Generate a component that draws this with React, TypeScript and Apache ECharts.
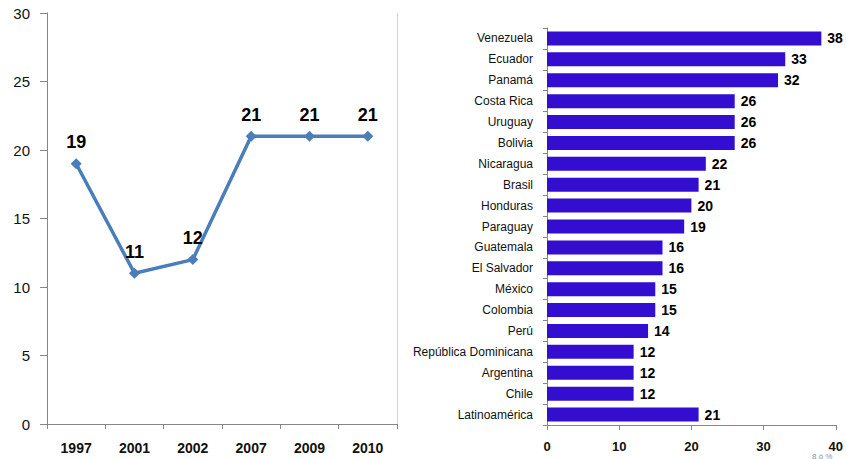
import React, { useEffect, useRef } from "react";
import * as echarts from "echarts";

const years = ["1997", "2001", "2002", "2007", "2009", "2010"];
const yearValues = [19, 11, 12, 21, 21, 21];

const countries = [
  "Venezuela", "Ecuador", "Panamá", "Costa Rica", "Uruguay", "Bolivia",
  "Nicaragua", "Brasil", "Honduras", "Paraguay", "Guatemala", "El Salvador",
  "México", "Colombia", "Perú", "República Dominicana", "Argentina", "Chile",
  "Latinoamérica",
];
const countryValues = [38, 33, 32, 26, 26, 26, 22, 21, 20, 19, 16, 16, 15, 15, 14, 12, 12, 12, 21];

const FONT = "'Liberation Sans', Arial, sans-serif";

export default function App() {
  const ref = useRef<HTMLDivElement>(null);
  useEffect(() => {
    if (!ref.current) return;
    const chart = echarts.init(ref.current, null, { renderer: "svg" });
    const axisColor = "#868686";
    chart.setOption({
      animation: false,
      backgroundColor: "#ffffff",
      textStyle: { fontFamily: FONT },
      grid: [
        { left: 47, right: 449, top: 13, bottom: 35 },
        { left: 547, right: 9, top: 28, bottom: 34 },
      ],
      xAxis: [
        {
          gridIndex: 0,
          type: "category",
          data: years,
          boundaryGap: true,
          axisLine: { lineStyle: { color: axisColor, width: 1 } },
          axisTick: { show: true, length: 5, lineStyle: { color: axisColor } },
          axisLabel: { color: "#111", fontSize: 14, fontWeight: "bold", margin: 17, fontFamily: FONT },
          splitLine: { show: false },
        },
        {
          gridIndex: 1,
          type: "value",
          min: 0,
          max: 40,
          interval: 10,
          axisLine: { show: true, lineStyle: { color: axisColor } },
          axisTick: { show: true, length: 5, lineStyle: { color: axisColor } },
          axisLabel: { color: "#111", fontSize: 13, fontWeight: "bold", margin: 15, fontFamily: FONT },
          splitLine: { show: false },
        },
      ],
      yAxis: [
        {
          gridIndex: 0,
          type: "value",
          min: 0,
          max: 30,
          interval: 5,
          axisLine: { show: true, lineStyle: { color: axisColor } },
          axisTick: { show: true, length: 7, lineStyle: { color: axisColor } },
          axisLabel: { color: "#111", fontSize: 15, margin: 17, fontFamily: FONT },
          splitLine: { show: false },
        },
        {
          gridIndex: 1,
          type: "category",
          data: countries,
          inverse: true,
          axisLine: { show: true, lineStyle: { color: axisColor } },
          axisTick: { show: true, length: 4, lineStyle: { color: axisColor } },
          axisLabel: { color: "#111", fontSize: 12, margin: 14, fontFamily: FONT },
          splitLine: { show: false },
        },
      ],
      series: [
        {
          type: "line",
          xAxisIndex: 0,
          yAxisIndex: 0,
          data: yearValues,
          lineStyle: { color: "#4A7EBB", width: 3.5 },
          itemStyle: { color: "#4A7EBB" },
          symbol: "diamond",
          symbolSize: 11,
          label: {
            show: true,
            position: "top",
            distance: 7,
            color: "#000",
            fontSize: 18,
            fontWeight: "bold",
            fontFamily: FONT,
          },
        },
        {
          type: "bar",
          xAxisIndex: 1,
          yAxisIndex: 1,
          data: countryValues,
          barWidth: 14,
          itemStyle: { color: "#330ED0" },
          label: {
            show: true,
            position: "right",
            distance: 6,
            color: "#000",
            fontSize: 14,
            fontWeight: "bold",
            fontFamily: FONT,
          },
        },
      ],
      graphic: [
        {
          type: "line",
          shape: { x1: 397.5, y1: 13, x2: 397.5, y2: 424 },
          style: { stroke: "#B5DCDF", lineWidth: 1 },
        },
        {
          type: "text",
          x: 812,
          y: 452,
          style: { text: "8 ô %", fontSize: 8, fill: "#7f90b8", fontFamily: FONT },
        },
      ],
    });
    return () => chart.dispose();
  }, []);
  return (
    <div
      ref={ref}
      style={{ position: "fixed", left: 0, top: 0, width: 846, height: 459 }}
    />
  );
}
